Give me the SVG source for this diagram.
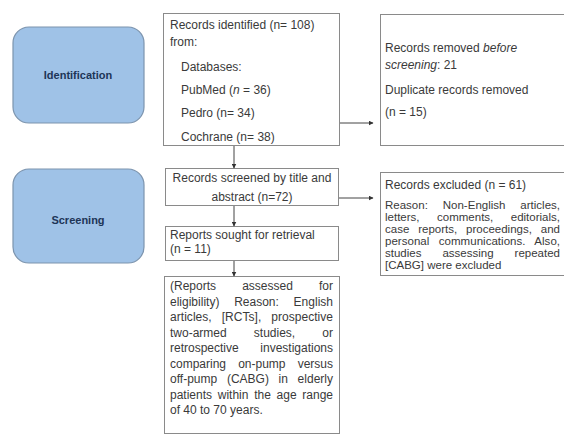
<svg xmlns="http://www.w3.org/2000/svg" width="564" height="435" viewBox="0 0 564 435">
<defs>
<marker id="arr" markerWidth="5" markerHeight="5" refX="4.5" refY="2.5" orient="auto" markerUnits="userSpaceOnUse">
<path d="M0,0 L5,2.5 L0,5 Z" fill="#333"/>
</marker>
</defs>
<style>
.stage{fill:#9fc2e7;stroke:#7c94ae;stroke-width:1.2}
.stxt{font-family:"Liberation Sans",Arial,sans-serif;font-size:11px;font-weight:bold;fill:#1d3557;text-anchor:middle}
.box{fill:#fff;stroke:#8a8a8a;stroke-width:1}
.t{font-family:"Liberation Sans",Arial,sans-serif;font-size:12px;fill:#3a3a3a}
.s{font-size:11.5px}
.c{text-anchor:middle}
.conn{stroke:#444;stroke-width:1;fill:none;marker-end:url(#arr)}
</style>
<rect width="564" height="435" fill="#fff"/>
<g id="identification">
<rect class="stage" x="13" y="27" width="131" height="96" rx="16"/>
<text class="stxt" x="78" y="79">Identification</text>
</g>
<g id="screening">
<rect class="stage" x="13" y="169" width="131" height="94" rx="16"/>
<text class="stxt" x="78" y="224">Screening</text>
</g>
<g id="records-identified">
<rect class="box" x="163.5" y="13.5" width="176" height="132"/>
<text class="t" x="170" y="29">Records identified (n= 108)</text>
<text class="t" x="170" y="46">from:</text>
<text class="t" x="181" y="71">Databases:</text>
<text class="t" x="181" y="94">PubMed (<tspan font-style="italic">n</tspan> = 36)</text>
<text class="t" x="181" y="117">Pedro (n= 34)</text>
<text class="t" x="181" y="141">Cochrane (n= 38)</text>
</g>
<g id="records-removed">
<rect class="box" x="380.5" y="14.5" width="190" height="131"/>
<text class="t" x="385" y="52">Records removed <tspan font-style="italic">before</tspan></text>
<text class="t" x="385" y="69"><tspan font-style="italic">screening</tspan>: 21</text>
<text class="t" x="385" y="94">Duplicate records removed</text>
<text class="t" x="385" y="116">(n = 15)</text>
</g>
<g id="records-screened">
<rect class="box" x="165.5" y="168.5" width="173" height="37"/>
<text class="t c" x="252" y="182">Records screened by title and</text>
<text class="t c" x="252" y="201">abstract (n=72)</text>
</g>
<g id="records-excluded">
<rect class="box" x="380.5" y="172.5" width="190" height="103"/>
<text class="t" x="385" y="189">Records excluded (n = 61)</text>
<text class="t s" x="385" y="209" word-spacing="11.7" textLength="175" lengthAdjust="spacing">Reason: Non-English articles,</text>
<text class="t s" x="385" y="221" word-spacing="14.3" textLength="175" lengthAdjust="spacing">letters, comments, editorials,</text>
<text class="t s" x="385" y="233" word-spacing="5.7" textLength="175" lengthAdjust="spacing">case reports, proceedings, and</text>
<text class="t s" x="385" y="245" word-spacing="6.3" textLength="175" lengthAdjust="spacing">personal communications. Also,</text>
<text class="t s" x="385" y="257" word-spacing="17.8" textLength="175" lengthAdjust="spacing">studies assessing repeated</text>
<text class="t s" x="385" y="269">[CABG] were excluded</text>
</g>
<g id="reports-sought">
<rect class="box" x="165.5" y="226.5" width="173" height="34"/>
<text class="t" x="170" y="239">Reports sought for retrieval</text>
<text class="t" x="170" y="253">(n = 11)</text>
</g>
<g id="reports-assessed">
<rect class="box" x="164.5" y="276.5" width="175" height="157"/>
<text class="t" x="170" y="290" word-spacing="22.8" textLength="163" lengthAdjust="spacing">(Reports assessed for</text>
<text class="t" x="170" y="305.5" word-spacing="11.4" textLength="163" lengthAdjust="spacing">eligibility) Reason: English</text>
<text class="t" x="170" y="321" word-spacing="6.5" textLength="163" lengthAdjust="spacing">articles, [RCTs], prospective</text>
<text class="t" x="170" y="336.5" word-spacing="23.8" textLength="163" lengthAdjust="spacing">two-armed studies, or</text>
<text class="t" x="170" y="352" word-spacing="18.3" textLength="163" lengthAdjust="spacing">retrospective investigations</text>
<text class="t" x="170" y="367.5" word-spacing="8.8" textLength="163" lengthAdjust="spacing">comparing on-pump versus</text>
<text class="t" x="170" y="383" word-spacing="6.3" textLength="163" lengthAdjust="spacing">off-pump (CABG) in elderly</text>
<text class="t" x="170" y="398.5" word-spacing="2.4" textLength="163" lengthAdjust="spacing">patients within the age range</text>
<text class="t" x="170" y="414">of 40 to 70 years.</text>
</g>
<g id="connectors">
<line class="conn" x1="340" y1="123" x2="373" y2="123"/>
<line class="conn" x1="234" y1="146" x2="234" y2="168"/>
<line class="conn" x1="339" y1="198" x2="373" y2="198"/>
<line class="conn" x1="234" y1="206" x2="234" y2="226"/>
<line class="conn" x1="234" y1="261" x2="234" y2="276"/>
</g>
</svg>
